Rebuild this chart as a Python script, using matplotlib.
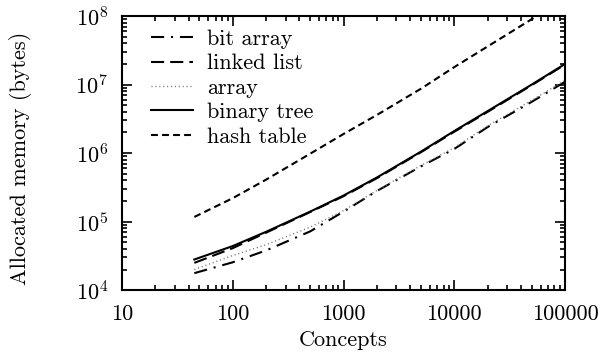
import numpy as np
import matplotlib
matplotlib.use("Agg")
import matplotlib.pyplot as plt
from matplotlib.ticker import LogLocator, FuncFormatter, NullFormatter

plt.rcParams["font.family"] = "serif"
plt.rcParams["font.serif"] = ["cmr10"]
plt.rcParams["mathtext.fontset"] = "cm"
plt.rcParams["axes.unicode_minus"] = False
plt.rcParams["axes.formatter.use_mathtext"] = True

# concepts (x) and allocated memory in bytes per data structure
concepts = [45, 100, 200, 500, 1000, 2000, 5000, 10000, 20000, 50000, 100000]
bit_array = [1.77e4, 2.55e4, 3.8e4, 7.2e4, 1.4e5, 2.8e5, 6.4e5, 1.15e6, 2.4e6, 5.6e6, 1.1e7]
linked_list = [2.5e4, 4.1e4, 6.9e4, 1.38e5, 2.35e5, 4.3e5, 1.03e6, 2.05e6, 4.0e6, 9.8e6, 1.96e7]
array = [2.0e4, 3.2e4, 4.6e4, 8.3e4, 1.45e5, 2.85e5, 6.6e5, 1.2e6, 2.5e6, 5.9e6, 1.15e7]
binary_tree = [2.8e4, 4.4e4, 7.1e4, 1.4e5, 2.4e5, 4.4e5, 1.05e6, 2.1e6, 4.1e6, 1.0e7, 2.0e7]
hash_table = [1.17e5, 2.2e5, 4.1e5, 9.8e5, 1.9e6, 3.6e6, 8.7e6, 1.8e7, 3.6e7, 9.0e7, 1.8e8]

fs = 16
fig = plt.figure(figsize=(5.98, 3.56), dpi=100)
ax = fig.add_axes([0.204, 0.185, 0.741, 0.770])

lw = 1.5
ax.plot(concepts, bit_array, color="k", lw=lw, dashes=(6.3, 3.3, 1, 3.3), label="bit array")
ax.plot(concepts, linked_list, color="k", lw=lw, dashes=(6.3, 2.9), label="linked list")
ax.plot(concepts, array, color="#777777", lw=1.0, dashes=(0.8, 2.0), label="array")
ax.plot(concepts, binary_tree, color="k", lw=lw, label="binary tree")
ax.plot(concepts, hash_table, color="k", lw=lw, dashes=(3.3, 2), label="hash table")

ax.set_xscale("log")
ax.set_yscale("log")
ax.set_xlim(10, 100000)
ax.set_ylim(1e4, 1e8)

ax.xaxis.set_major_locator(LogLocator(base=10))
ax.xaxis.set_major_formatter(FuncFormatter(lambda v, p: f"{int(round(v))}"))
ax.xaxis.set_minor_locator(LogLocator(base=10, subs=np.arange(2, 10)))
ax.xaxis.set_minor_formatter(NullFormatter())
ax.yaxis.set_minor_locator(LogLocator(base=10, subs=np.arange(2, 10)))
ax.yaxis.set_minor_formatter(NullFormatter())

for s in ax.spines.values():
    s.set_linewidth(1.5)
ax.tick_params(which="both", direction="in", top=True, right=True, labelsize=fs, width=1.2)
ax.tick_params(which="major", length=7)
ax.tick_params(which="minor", length=3.6)
ax.tick_params(axis="x", which="major", pad=10)
ax.tick_params(axis="y", which="major", pad=10)

ax.set_xlabel("Concepts", fontsize=fs, va="center")
ax.set_ylabel("Allocated memory (bytes)", fontsize=fs, va="center")
ax.xaxis.set_label_coords(0.5, -0.182)
ax.yaxis.set_label_coords(-0.23, 0.48)

ax.legend(loc="upper left", bbox_to_anchor=(0.035, 1.0), frameon=False, fontsize=fs,
          handlelength=1.9, handletextpad=0.63, labelspacing=0.22,
          borderaxespad=0.3, borderpad=0.3)

fig.savefig("out.png", dpi=100)
